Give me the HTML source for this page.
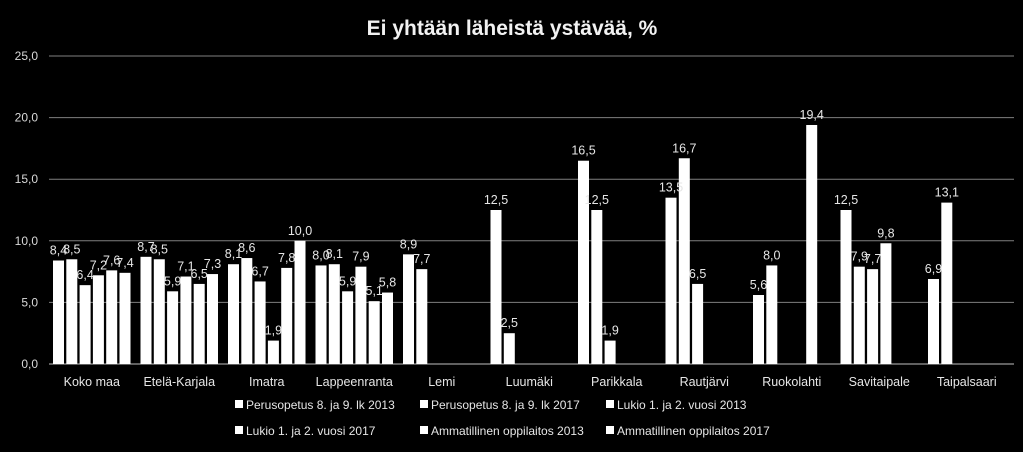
<!DOCTYPE html>
<html><head><meta charset="utf-8"><style>
html,body{margin:0;padding:0;background:#000;}
svg{display:block;font-family:"Liberation Sans",sans-serif;}
</style></head><body>
<svg id="chart" width="1023" height="452" viewBox="0 0 1023 452">
<rect x="0" y="0" width="1023" height="452" fill="#000"/>
<text x="512" y="35" text-anchor="middle" fill="#f2f2f2" font-size="21" font-weight="bold">Ei yhtään läheistä ystävää, %</text>
<g id="grid"></g><g id="bars"></g><g id="labels"></g><g id="legend"></g>
</svg>
<script>
const categories=["Koko maa","Etelä-Karjala","Imatra","Lappeenranta","Lemi","Luumäki","Parikkala","Rautjärvi","Ruokolahti","Savitaipale","Taipalsaari"];
const seriesNames=["Perusopetus 8. ja 9. lk 2013","Perusopetus 8. ja 9. lk 2017","Lukio 1. ja 2. vuosi 2013","Lukio 1. ja 2. vuosi 2017","Ammatillinen oppilaitos 2013","Ammatillinen oppilaitos 2017"];
const s0=[8.4,8.7,8.1,8.0,8.9,12.5,16.5,13.5,5.6,12.5,6.9];
const s1=[8.5,8.5,8.6,8.1,7.7,2.5,12.5,16.7,8.0,7.9,13.1];
const s2=[6.4,5.9,6.7,5.9,null,null,1.9,6.5,null,7.7,null];
const s3=[7.2,7.1,1.9,7.9,null,null,null,null,null,9.8,null];
const s4=[7.6,6.5,7.8,5.1,null,null,null,null,19.4,null,null];
const s5=[7.4,7.3,10.0,5.8,null,null,null,null,null,null,null];
const yTicks=[0,5,10,15,20,25];
const NS="http://www.w3.org/2000/svg";
const x0=49,groupW=87.5,y0=364,yTop=56,yMax=25,barW=11,pitch=13.3,barOff=4;
function yPos(v){return y0-(v/yMax)*(y0-yTop);}
function xBar(ci,si){return x0+ci*groupW+barOff+si*pitch;}
function mk(tag,attrs,parent){const e=document.createElementNS(NS,tag);for(const k in attrs)e.setAttribute(k,attrs[k]);parent.appendChild(e);return e;}
const grid=document.getElementById('grid'),bars=document.getElementById('bars'),labels=document.getElementById('labels'),legend=document.getElementById('legend');
yTicks.forEach(t=>{
 const l=mk('line',{x1:x0,x2:1014,y1:yPos(t),y2:yPos(t),stroke:t===0?'#bfbfbf':'#7f7f7f','stroke-width':1},grid);
 
 
 const tx=mk('text',{x:38,y:yPos(t)+4,'text-anchor':'end',fill:'#d9d9d9','font-size':12},grid);
 tx.textContent=t.toFixed(1).replace('.',',');
 
 
});
categories.forEach((c,ci)=>{
 const tx=mk('text',{x:x0+ci*groupW+groupW/2-1,y:386,'text-anchor':'middle',fill:'#e6e6e6','font-size':12.5},grid);
 tx.textContent=c;
 
 
});
const series=[s0,s1,s2,s3,s4,s5];
series.forEach((s,si)=>{
 s.forEach((v,ci)=>{
  if(v===null)return;
  const x=xBar(ci,si),y=yPos(v);
  const r=mk('rect',{x:x,y:y,width:barW,height:y0-y,fill:'#ffffff'},bars);
  
  
  const t=mk('text',{x:x+barW/2,y:y-6,'text-anchor':'middle',fill:'#e6e6e6','font-size':12.5},labels);
  t.textContent=v.toFixed(1).replace('.',',');
  
  
 });
});
const legX=[235,420,606],legY=[409,435];
seriesNames.forEach((n,i)=>{
 const lx=legX[i%3],ly=legY[Math.floor(i/3)];
 const g=mk('g',{},legend);
 
 
 mk('rect',{x:lx,y:ly-9,width:8,height:8,fill:'#fff'},g);
 const t=mk('text',{x:lx+11,y:ly,fill:'#e6e6e6','font-size':12},g);
 t.textContent=n;
});
</script>
</body></html>
